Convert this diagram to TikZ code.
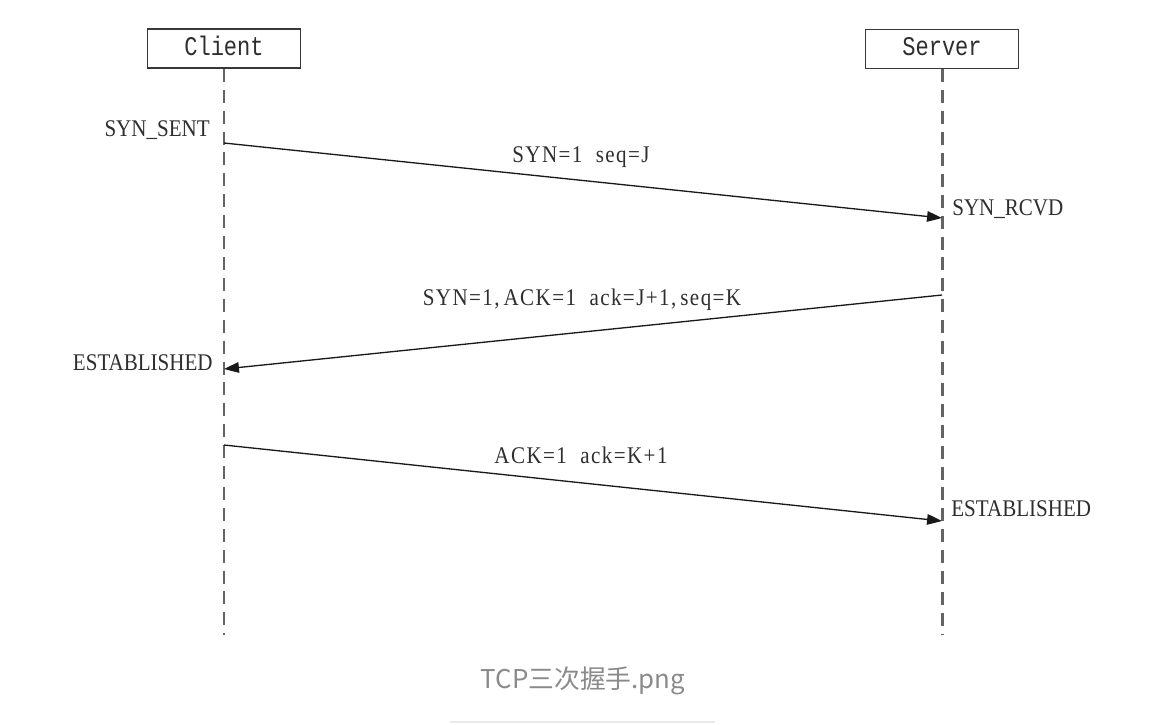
\documentclass[tikz,border=0pt]{standalone}
\usepackage{fontspec}
\usepackage{xcolor}
\usetikzlibrary{arrows.meta, positioning}
\newfontfamily\statefont[FakeStretch=0.88]{Liberation Serif}
\newfontfamily\msgfont[FakeStretch=0.88, LetterSpace=6]{Liberation Serif}
\newfontfamily\headfont[FakeStretch=0.82]{Liberation Mono}
\newfontfamily\cjk{Noto Sans CJK SC}
\definecolor{lifegray}{HTML}{646464}
\definecolor{boxgray}{HTML}{383838}
\definecolor{textgray}{HTML}{2E2E2E}
\definecolor{capgray}{HTML}{8A8A8A}
\definecolor{rulegray}{HTML}{EAEAEA}
\begin{document}
\begin{tikzpicture}[x=0.02cm, y=-0.02cm,
    head/.style={draw=boxgray, line width=0.9pt, minimum width=3.06cm, minimum height=0.78cm,
      inner sep=0pt, text height=7.4pt, text depth=0pt, text=textgray, font=\headfont\fontsize{15.3}{16}\selectfont},
    life/.style={draw=lifegray, line width=1.7pt, dash pattern=on 7.4pt off 4.5pt},
    msg/.style={draw=black!90, line width=0.75pt, -{Triangle[length=8.5pt,width=6pt]}},
    lbl/.style={inner sep=0pt, text=textgray, font=\statefont\fontsize{13.6}{15}\selectfont},
    msglbl/.style={lbl, anchor=base, font=\msgfont\fontsize{13.6}{15}\selectfont}]
  \useasboundingbox (0,0) rectangle (1162,724);

  \node[head] (client) at (224,48.5) {Client};
  \node[head] (server) at (942,49) {Server};
  \coordinate (end) at (0,635);
  \foreach \n in {client, server}
    \draw[life] (\n.south) -- (\n.south |- end);

  % message ends on the lifelines
  \coordinate (c1) at (224,143);
  \coordinate (s1) at (942,218);
  \coordinate (s2) at (942,295);
  \coordinate (c2) at (224,369);
  \coordinate (c3) at (224,445);
  \coordinate (s3) at (942,521);

  \draw[msg] (c1) -- (s1);
  \draw[msg] (s2) -- (c2);
  \draw[msg] (c3) -- (s3);

  \node[msglbl] (m1) at (581,162) {SYN=1~~seq=J};
  \node[msglbl] (m2) at (582,305) {SYN=1,\,ACK=1~~ack=J+1,\,seq=K};
  \node[msglbl] (m3) at (581,463) {ACK=1~~ack=K+1};

  \node[lbl, anchor=base east] (sent) at (210,136) {SYN\_SENT};
  \node[lbl, anchor=base west] (rcvd) at (952,215) {SYN\_RCVD};
  \node[lbl, anchor=base east] (estc) at (213,370) {ESTABLISHED};
  \node[lbl, anchor=base west] (ests) at (951,516) {ESTABLISHED};

  \node[anchor=base, inner sep=0pt, text=capgray, font=\cjk\fontsize{14.7}{16}\selectfont] (cap) at (583,688) {TCP三次握手.png};
  \coordinate (r1) at (450,722);
  \coordinate (r2) at (715,722);
  \draw[rulegray, line width=1.1pt] (r1) -- (r2);
\end{tikzpicture}
\end{document}
